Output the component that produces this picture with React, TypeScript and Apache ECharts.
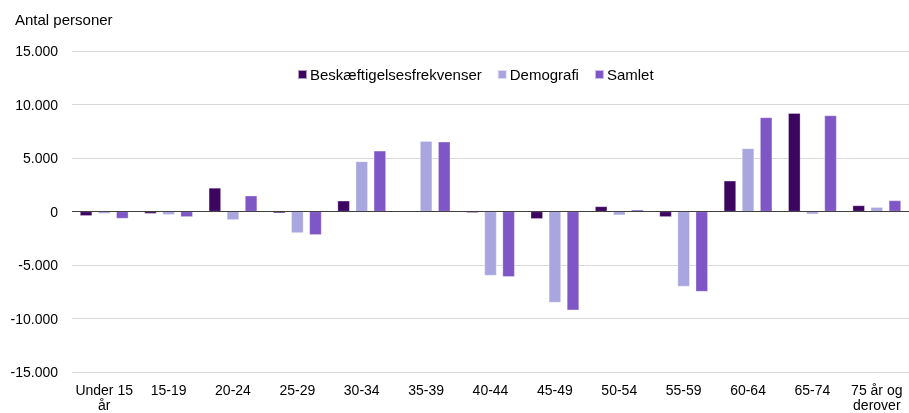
import React, { useEffect, useRef } from "react";
import * as echarts from "echarts";

const categories = ["Under 15\når", "15-19", "20-24", "25-29", "30-34", "35-39", "40-44", "45-49", "50-54", "55-59", "60-64", "65-74", "75 år og\nderover"];
const beskaeftigelse = [-400, -200, 2200, -150, 1000, 50, -120, -680, 470, -500, 2870, 9190, 560];
const demografi = [-200, -300, -780, -2000, 4670, 6570, -5980, -8500, -340, -7000, 5890, -250, 400];
const samlet = [-650, -500, 1470, -2180, 5670, 6510, -6100, -9220, 160, -7480, 8790, 8970, 1030];
const seriesNames = ["Beskæftigelsesfrekvenser", "Demografi", "Samlet"];
const colors = ["#3b0560", "#a9a6df", "#7f56c6"];

const fmt = (v: number) => {
  const s = Math.abs(v).toString().replace(/\B(?=(\d{3})+(?!\d))/g, ".");
  return (v < 0 ? "-" : "") + s;
};

export default function App() {
  const ref = useRef<HTMLDivElement>(null);
  useEffect(() => {
    if (!ref.current) return;
    const chart = echarts.init(ref.current, null, { renderer: "svg" });
    const font = "Liberation Sans, Arial, sans-serif";
    const data = [beskaeftigelse, demografi, samlet];
    chart.setOption({
      animation: false,
      textStyle: { fontFamily: font },
      title: {
        text: "Antal personer",
        left: 15,
        top: 12,
        padding: 0,
        textStyle: { fontSize: 15, fontWeight: "normal", color: "#000", fontFamily: font },
      },
      legend: {
        data: seriesNames,
        left: 297,
        top: 67,
        padding: 0,
        itemWidth: 9,
        itemHeight: 9,
        itemGap: 15,
        icon: "rect",
        textStyle: { fontSize: 15, color: "#000", fontFamily: font, padding: [0, 0, 0, -2] },
      },
      grid: { left: 72, right: 0, top: 51, bottom: 41, containLabel: false },
      xAxis: {
        type: "category",
        data: categories,
        axisLine: { show: false },
        axisTick: { show: false },
        axisLabel: { color: "#000", fontSize: 14, fontFamily: font, margin: 10, lineHeight: 15, interval: 0 },
      },
      yAxis: {
        type: "value",
        min: -15000,
        max: 15000,
        interval: 5000,
        axisLine: { show: false },
        axisTick: { show: false },
        axisLabel: { color: "#000", fontSize: 14, fontFamily: font, margin: 14, formatter: fmt },
        splitLine: { lineStyle: { color: "#d9d9d9", width: 1 } },
      },
      series: seriesNames.map((name, i) => ({
        name,
        type: "bar",
        data: data[i],
        barGap: "50%",
        barCategoryGap: "25%",
        itemStyle: { color: colors[i], borderColor: "rgba(255,255,255,0.6)", borderWidth: 0.5 },
        markLine:
          i === 0
            ? {
                silent: true,
                symbol: "none",
                label: { show: false },
                lineStyle: { color: "#404040", width: 1, type: "solid" },
                data: [{ yAxis: 0 }],
              }
            : undefined,
      })),
    });
    return () => chart.dispose();
  }, []);
  return <div ref={ref} style={{ position: "fixed", left: 0, top: 0, width: 909, height: 413 }} />;
}
